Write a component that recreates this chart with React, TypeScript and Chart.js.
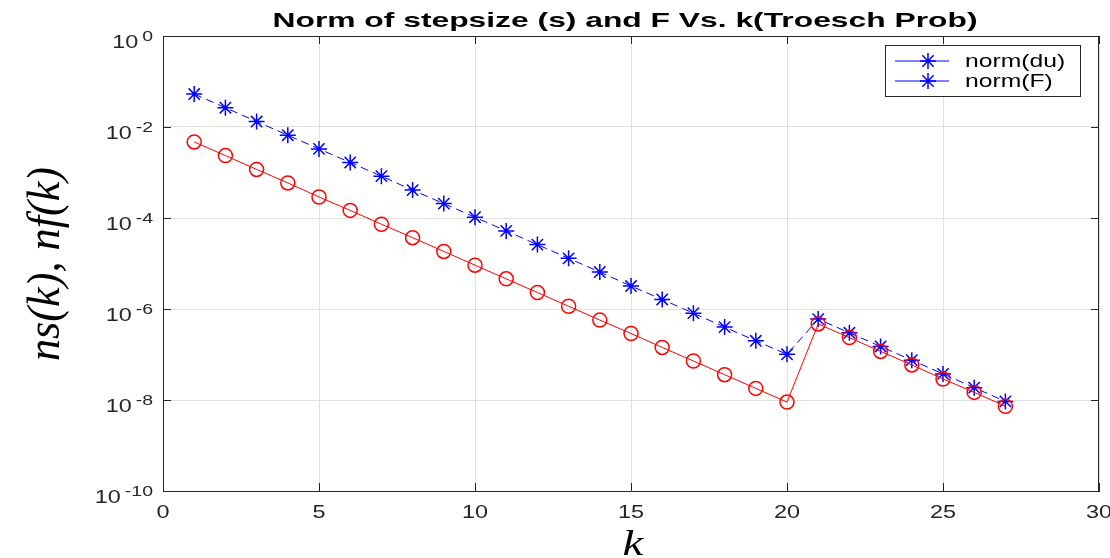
import React, { useEffect, useRef } from 'react';
import { Chart, registerables } from 'chart.js';

Chart.register(...registerables);

const kValues = [1, 2, 3, 4, 5, 6, 7, 8, 9, 10, 11, 12, 13, 14, 15, 16, 17, 18, 19, 20, 21, 22, 23, 24, 25, 26, 27];
const normDu = [
  5.3e-2, 2.65e-2, 1.32e-2, 6.6e-3, 3.3e-3, 1.66e-3, 8.3e-4, 4.1e-4, 2.07e-4, 1.04e-4,
  5.2e-5, 2.6e-5, 1.3e-5, 6.5e-6, 3.2e-6, 1.62e-6, 8.1e-7, 4.0e-7, 2.0e-7, 1.01e-7,
  6.0e-7, 3.0e-7, 1.5e-7, 7.5e-8, 3.75e-8, 1.87e-8, 9.3e-9,
];
const normF = [
  4.7e-3, 2.35e-3, 1.17e-3, 5.9e-4, 2.9e-4, 1.47e-4, 7.3e-5, 3.7e-5, 1.84e-5, 9.2e-6,
  4.6e-6, 2.3e-6, 1.15e-6, 5.7e-7, 2.9e-7, 1.43e-7, 7.2e-8, 3.6e-8, 1.8e-8, 9.0e-9,
  4.7e-7, 2.35e-7, 1.17e-7, 5.9e-8, 2.9e-8, 1.47e-8, 7.3e-9,
];
const xTicks = [0, 5, 10, 15, 20, 25, 30];
const yTickExponents = [0, -2, -4, -6, -8, -10];
const legendLabels = ['norm(du)', 'norm(F)'];
const titleText = 'Norm of stepsize (s) and F Vs. k(Troesch Prob)';
const xTitle = 'k';
const yTitle = 'ns(k), nf(k)';

const AXIS = '#262626';
const SX = 1.3;

function drawText(
  ctx: CanvasRenderingContext2D,
  text: string,
  x: number,
  y: number,
  font: string,
  sx: number,
  align: 'left' | 'center' | 'right',
  baseline: CanvasTextBaseline = 'alphabetic',
  color: string = AXIS
): number {
  ctx.save();
  ctx.font = font;
  ctx.textAlign = 'left';
  ctx.textBaseline = baseline;
  ctx.fillStyle = color;
  const w = ctx.measureText(text).width * sx;
  const x0 = align === 'left' ? x : align === 'center' ? x - w / 2 : x - w;
  ctx.translate(x0, y);
  ctx.scale(sx, 1);
  ctx.fillText(text, 0, 0);
  ctx.restore();
  return w;
}

const decorPlugin = {
  id: 'matlabDecor',
  beforeDraw(chart: any) {
    const ctx = chart.ctx as CanvasRenderingContext2D;
    ctx.save();
    ctx.fillStyle = '#ffffff';
    ctx.fillRect(0, 0, chart.width, chart.height);
    ctx.restore();
  },
  afterDraw(chart: any) {
    const ctx = chart.ctx as CanvasRenderingContext2D;
    const a = chart.chartArea;
    const xs = chart.scales.x;
    const ys = chart.scales.y;
    ctx.save();
    // box
    ctx.strokeStyle = AXIS;
    ctx.lineWidth = 1;
    ctx.beginPath();
    ctx.moveTo(a.left + 0.5, a.top + 0.5);
    ctx.lineTo(a.right - 0.5, a.top + 0.5);
    ctx.lineTo(a.right - 0.5, a.bottom);
    ctx.stroke();
    // inward ticks
    const tl = 8;
    ctx.beginPath();
    xTicks.forEach((v) => {
      const px = Math.round(xs.getPixelForValue(v)) + 0.5;
      ctx.moveTo(px, a.bottom);
      ctx.lineTo(px, a.bottom - tl);
      ctx.moveTo(px, a.top);
      ctx.lineTo(px, a.top + tl);
    });
    yTickExponents.forEach((e) => {
      const py = Math.round(ys.getPixelForValue(Math.pow(10, e))) + 0.5;
      ctx.moveTo(a.left, py);
      ctx.lineTo(a.left + tl, py);
      ctx.moveTo(a.right, py);
      ctx.lineTo(a.right - tl, py);
    });
    ctx.stroke();
    ctx.restore();

    // x tick labels
    xTicks.forEach((v) => {
      const px = xs.getPixelForValue(v);
      drawText(ctx, String(v), px, a.bottom + 27, '18px "Liberation Sans", Arial, sans-serif', SX, 'center');
    });
    // y tick labels
    yTickExponents.forEach((e) => {
      const py = ys.getPixelForValue(Math.pow(10, e));
      const expStr = e === 0 ? '0' : '-' + String(Math.abs(e));
      const right = a.left - 10;
      const ew = drawText(ctx, expStr, right, py + 5, '15px "Liberation Sans", Arial, sans-serif', SX, 'right');
      drawText(ctx, '10', right - ew - 4, py + 12, '18px "Liberation Sans", Arial, sans-serif', SX, 'right');
    });

    // title
    const titleFont = 'bold 21px "Liberation Sans", Arial, sans-serif';
    ctx.save();
    ctx.font = titleFont;
    const tw = ctx.measureText(titleText).width;
    ctx.restore();
    const targetTitle = 705;
    drawText(ctx, titleText, 625, 27, titleFont, targetTitle / tw, 'center', 'alphabetic', '#000000');

    // x title
    drawText(ctx, xTitle, 633, 555, 'italic 36px "Liberation Serif", "Times New Roman", serif', SX, 'center', 'alphabetic', '#000000');

    // y title (rotated)
    ctx.save();
    ctx.font = 'italic 36px "Liberation Serif", "Times New Roman", serif';
    const yw = ctx.measureText(yTitle).width;
    const targetY = 194;
    ctx.translate(47, 264);
    ctx.rotate(-Math.PI / 2);
    ctx.scale(targetY / yw, SX);
    ctx.textAlign = 'center';
    ctx.textBaseline = 'middle';
    ctx.fillStyle = '#000000';
    ctx.fillText(yTitle, 0, 0);
    ctx.restore();

    // legend
    const lx = 885, ly = 45, lw = 195, lh = 51;
    ctx.save();
    ctx.fillStyle = '#ffffff';
    ctx.fillRect(lx, ly, lw, lh);
    ctx.strokeStyle = AXIS;
    ctx.lineWidth = 1;
    ctx.strokeRect(lx + 0.5, ly + 0.5, lw, lh);
    ctx.restore();
    legendLabels.forEach((label, i) => {
      const yy = ly + 16 + i * 20;
      ctx.save();
      ctx.strokeStyle = '#0000ff';
      ctx.lineWidth = 1;
      ctx.beginPath();
      ctx.moveTo(895, yy);
      ctx.lineTo(949, yy);
      ctx.stroke();
      ctx.lineWidth = 1.5;
      ctx.beginPath();
      const r = 8;
      for (let j = 0; j < 4; j++) {
        const ang = (j * Math.PI) / 4;
        ctx.moveTo(928 - r * Math.cos(ang), yy - r * Math.sin(ang));
        ctx.lineTo(928 + r * Math.cos(ang), yy + r * Math.sin(ang));
      }
      ctx.stroke();
      ctx.restore();
      drawText(ctx, label, 965, yy + 1, '19px "Liberation Sans", Arial, sans-serif', SX, 'left', 'middle', '#000000');
    });
  },
};

export default function App() {
  const canvasRef = useRef<HTMLCanvasElement | null>(null);

  useEffect(() => {
    const canvas = canvasRef.current;
    if (!canvas) return;
    const chart = new Chart(canvas, {
      type: 'line',
      data: {
        datasets: [
          {
            label: legendLabels[0],
            data: kValues.map((k, i) => ({ x: k, y: normDu[i] })),
            borderColor: '#0000ff',
            borderWidth: 1,
            borderDash: [8, 5],
            pointStyle: 'star',
            pointRadius: 8,
            pointBorderColor: '#0000ff',
            pointBackgroundColor: '#0000ff',
            pointBorderWidth: 1.5,
            fill: false,
            tension: 0,
            order: 1,
          },
          {
            label: legendLabels[1],
            data: kValues.map((k, i) => ({ x: k, y: normF[i] })),
            borderColor: '#ff0000',
            borderWidth: 1,
            pointStyle: 'circle',
            pointRadius: 7,
            pointBorderColor: '#ff0000',
            pointBackgroundColor: 'rgba(0,0,0,0)',
            pointBorderWidth: 1.5,
            fill: false,
            tension: 0,
            order: 0,
          },
        ],
      },
      options: {
        responsive: false,
        animation: false,
        devicePixelRatio: 1,
        layout: { padding: { left: 163, top: 36, right: 11, bottom: 67 } },
        plugins: {
          legend: { display: false },
          title: { display: false },
          tooltip: { enabled: false },
        },
        scales: {
          x: {
            type: 'linear',
            min: 0,
            max: 30,
            ticks: { display: false },
            grid: { color: '#e0e0e0', drawTicks: false },
            border: { color: AXIS, width: 1 },
            afterBuildTicks: (s: any) => {
              s.ticks = xTicks.map((v) => ({ value: v }));
            },
          },
          y: {
            type: 'logarithmic',
            min: 1e-10,
            max: 1,
            ticks: { display: false },
            grid: { color: '#e0e0e0', drawTicks: false },
            border: { color: AXIS, width: 1 },
            afterBuildTicks: (s: any) => {
              s.ticks = yTickExponents.map((e) => ({ value: Math.pow(10, e) }));
            },
          },
        },
      } as any,
      plugins: [decorPlugin],
    });
    return () => chart.destroy();
  }, []);

  return (
    <div style={{ position: 'fixed', left: 0, top: 0, width: 1110, height: 558, background: '#fff' }}>
      <canvas ref={canvasRef} width={1110} height={558} style={{ display: 'block' }} />
    </div>
  );
}
